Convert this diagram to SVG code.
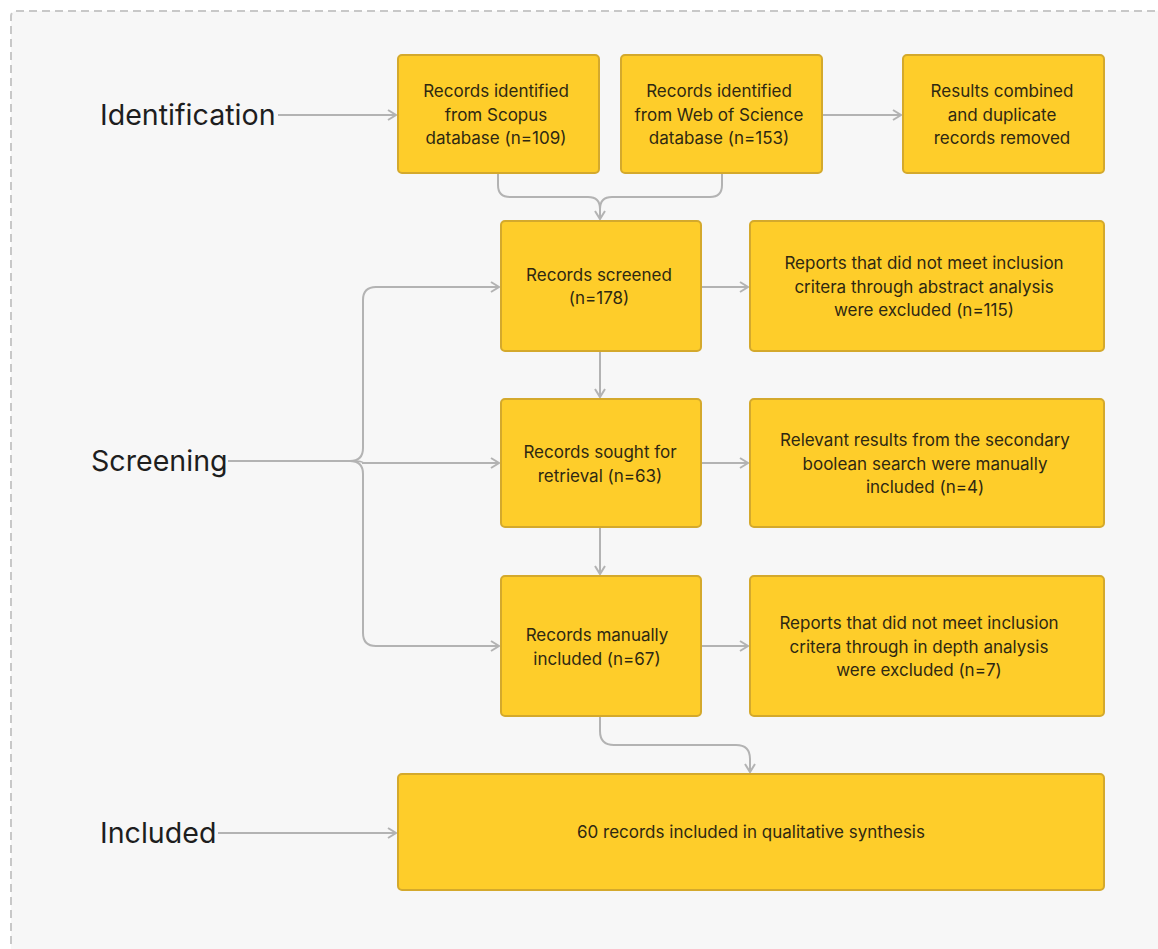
<svg xmlns="http://www.w3.org/2000/svg" width="1158" height="949" viewBox="0 0 1158 949">
<style>
.box{fill:#FECD2A;stroke:#D4A92C;stroke-width:2}
.bt{font-family:Inter,"Liberation Sans",sans-serif;font-size:17px;fill:#2e2812;text-anchor:middle}
.lbl{font-family:Inter,"Liberation Sans",sans-serif;font-size:28.6px;fill:#1e1e1e}
.con{fill:none;stroke:#B3B3B3;stroke-width:2;marker-end:url(#arr)}
.conn{fill:none;stroke:#B3B3B3;stroke-width:2}
</style>
<defs>
<marker id="arr" viewBox="0 0 12 12" refX="10" refY="6" markerWidth="12" markerHeight="12" markerUnits="userSpaceOnUse" orient="auto">
<path d="M2,1 L10,6 L2,11" fill="none" stroke="#B3B3B3" stroke-width="2"/>
</marker>
</defs>
<rect x="0" y="0" width="1158" height="949" fill="#ffffff"/>
<rect x="11" y="11" width="1170" height="960" rx="5" fill="#F7F7F7" stroke="#C8C8C8" stroke-width="2" stroke-dasharray="8 5"/>

<g id="connectors">
<path class="con" d="M278,115 H396"/>
<path class="con" d="M823,115 H901"/>
<path class="conn" d="M498,174 V185 Q498,197 510,197 H588 Q600,197 600,209"/>
<path class="conn" d="M722,174 V185 Q722,197 710,197 H612 Q600,197 600,209"/>
<path class="con" d="M600,208 V219"/>
<path class="con" d="M600,352 V397"/>
<path class="con" d="M600,528 V574"/>
<path class="con" d="M702,287 H748"/>
<path class="con" d="M702,463 H748"/>
<path class="con" d="M702,646 H748"/>
<path class="conn" d="M228,461 H350 Q363,461 363,448 V300 Q363,287 376,287"/>
<path class="con" d="M375,287 H499"/>
<path class="con" d="M350,461 Q363,461 363,463 H499"/>
<path class="conn" d="M350,461 Q363,461 363,474 V633 Q363,646 376,646"/>
<path class="con" d="M375,646 H499"/>
<path class="con" d="M600,717 V731 Q600,745 614,745 H736 Q750,745 750,759 V772"/>
<path class="con" d="M218,833 H396"/>
</g>

<g id="label-identification"><text class="lbl" x="100" y="125">Identification</text></g>
<g id="label-screening"><text class="lbl" x="91" y="471">Screening</text></g>
<g id="label-included"><text class="lbl" x="100" y="843">Included</text></g>

<g id="scopus">
<rect class="box" x="398" y="55" width="201" height="118" rx="4"/>
<text class="bt" x="496" y="97">Records identified</text>
<text class="bt" x="496" y="120.5">from Scopus</text>
<text class="bt" x="496" y="144">database (n=109)</text>
</g>
<g id="wos">
<rect class="box" x="621" y="55" width="201" height="118" rx="4"/>
<text class="bt" x="719" y="97">Records identified</text>
<text class="bt" x="719" y="120.5">from Web of Science</text>
<text class="bt" x="719" y="144">database (n=153)</text>
</g>
<g id="combined">
<rect class="box" x="903" y="55" width="201" height="118" rx="4"/>
<text class="bt" x="1002" y="97">Results combined</text>
<text class="bt" x="1002" y="120.5">and duplicate</text>
<text class="bt" x="1002" y="144">records removed</text>
</g>
<g id="screened">
<rect class="box" x="501" y="221" width="200" height="130" rx="4"/>
<text class="bt" x="599" y="281">Records screened</text>
<text class="bt" x="599" y="304">(n=178)</text>
</g>
<g id="excluded-abstract">
<rect class="box" x="750" y="221" width="354" height="130" rx="4"/>
<text class="bt" x="924" y="269">Reports that did not meet inclusion</text>
<text class="bt" x="924" y="292.5">critera through abstract analysis</text>
<text class="bt" x="924" y="316">were excluded (n=115)</text>
</g>
<g id="sought">
<rect class="box" x="501" y="399" width="200" height="128" rx="4"/>
<text class="bt" x="600" y="458">Records sought for</text>
<text class="bt" x="600" y="481.5">retrieval (n=63)</text>
</g>
<g id="relevant">
<rect class="box" x="750" y="399" width="354" height="128" rx="4"/>
<text class="bt" x="925" y="446">Relevant results from the secondary</text>
<text class="bt" x="925" y="469.5">boolean search were manually</text>
<text class="bt" x="925" y="493">included (n=4)</text>
</g>
<g id="manually">
<rect class="box" x="501" y="576" width="200" height="140" rx="4"/>
<text class="bt" x="597" y="641">Records manually</text>
<text class="bt" x="597" y="664.5">included (n=67)</text>
</g>
<g id="excluded-depth">
<rect class="box" x="750" y="576" width="354" height="140" rx="4"/>
<text class="bt" x="919" y="629">Reports that did not meet inclusion</text>
<text class="bt" x="919" y="652.5">critera through in depth analysis</text>
<text class="bt" x="919" y="676">were excluded (n=7)</text>
</g>
<g id="included">
<rect class="box" x="398" y="774" width="706" height="116" rx="4"/>
<text class="bt" x="751" y="838">60 records included in qualitative synthesis</text>
</g>
</svg>
